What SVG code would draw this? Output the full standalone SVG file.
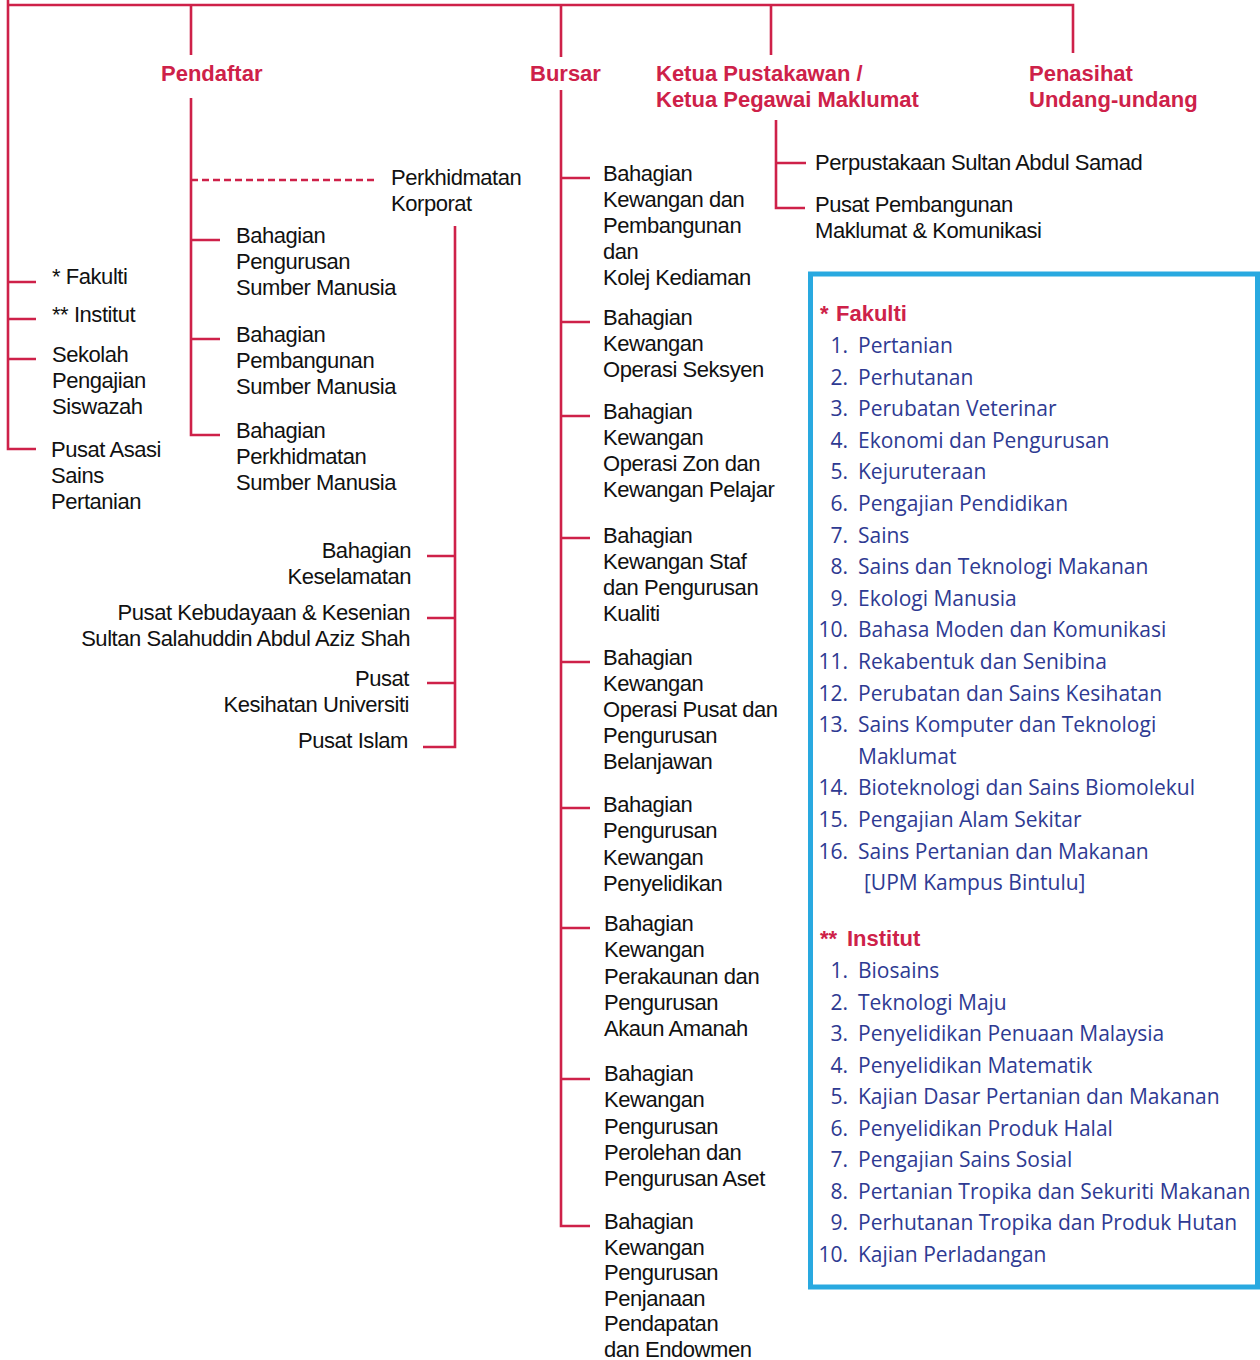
<svg xmlns="http://www.w3.org/2000/svg" width="1260" height="1360" viewBox="0 0 1260 1360">
<style>
.ln{stroke:#CE2149;stroke-width:2.6;fill:none}
.dash{stroke-dasharray:7 4}
.t{font-family:"Liberation Sans",Arial,sans-serif;font-size:22px;letter-spacing:-0.45px;fill:#111}
.h{font-family:"Liberation Sans",Arial,sans-serif;font-size:22px;font-weight:bold;fill:#CE2149}
.r{text-anchor:end}
.box{fill:none;stroke:#29A9E0;stroke-width:5}
.l{font-family:"Open Sans","Noto Sans",sans-serif;font-size:21px;fill:#2E3A92}
.n{text-anchor:end}
</style>
<rect width="1260" height="1360" fill="#fff"/>
<g id="connectors">
<path class="ln" d="M8,0V449H36M8,5H1073V53M8,282H36M8,319H36M8,359H36"/>
<path class="ln" d="M191,5V55M191,98V435H220M191,240H220M191,339H220"/>
<path class="ln dash" d="M191,180H378"/>
<path class="ln" d="M455,226V747H423M427,556H455M427,618H455M427,683H455"/>
<path class="ln" d="M561,5V57M561,90V1226H590M561,178H590M561,322H590M561,416H590M561,538H590M561,662H590M561,808H590M561,928H590M561,1079H590"/>
<path class="ln" d="M771,5V55M776,120V208H805M776,163H806"/>
</g>
<g id="fakulti"><text class="t" x="52" y="284">* Fakulti</text></g>
<g id="institut"><text class="t" x="52" y="322">** Institut</text></g>
<g id="sekolah"><text class="t" x="52" y="362">Sekolah<tspan x="52" dy="26">Pengajian</tspan><tspan x="52" dy="26">Siswazah</tspan></text></g>
<g id="pusat-asasi"><text class="t" x="51" y="457">Pusat Asasi<tspan x="51" dy="26">Sains</tspan><tspan x="51" dy="26">Pertanian</tspan></text></g>
<g id="pendaftar"><text class="h" x="161" y="81">Pendaftar</text></g>
<g id="perkhidmatan-korporat"><text class="t" x="391" y="185">Perkhidmatan<tspan x="391" dy="26">Korporat</tspan></text></g>
<g id="bpsm"><text class="t" x="236" y="243">Bahagian<tspan x="236" dy="26">Pengurusan</tspan><tspan x="236" dy="26">Sumber Manusia</tspan></text></g>
<g id="bpbsm"><text class="t" x="236" y="342">Bahagian<tspan x="236" dy="26">Pembangunan</tspan><tspan x="236" dy="26">Sumber Manusia</tspan></text></g>
<g id="bpksm"><text class="t" x="236" y="438">Bahagian<tspan x="236" dy="26">Perkhidmatan</tspan><tspan x="236" dy="26">Sumber Manusia</tspan></text></g>
<g id="keselamatan"><text class="t r" x="411" y="558">Bahagian<tspan x="411" dy="26">Keselamatan</tspan></text></g>
<g id="kebudayaan"><text class="t r" x="410" y="620">Pusat Kebudayaan &amp; Kesenian<tspan x="410" dy="26">Sultan Salahuddin Abdul Aziz Shah</tspan></text></g>
<g id="kesihatan"><text class="t r" x="409" y="686">Pusat<tspan x="409" dy="26">Kesihatan Universiti</tspan></text></g>
<g id="islam"><text class="t r" x="408" y="748">Pusat Islam</text></g>
<g id="bursar"><text class="h" x="530" y="81">Bursar</text></g>
<g id="b1"><text class="t" x="603" y="181">Bahagian<tspan x="603" dy="26">Kewangan dan</tspan><tspan x="603" dy="26">Pembangunan</tspan><tspan x="603" dy="26">dan</tspan><tspan x="603" dy="26">Kolej Kediaman</tspan></text></g>
<g id="b2"><text class="t" x="603" y="325">Bahagian<tspan x="603" dy="26">Kewangan</tspan><tspan x="603" dy="26">Operasi Seksyen</tspan></text></g>
<g id="b3"><text class="t" x="603" y="419">Bahagian<tspan x="603" dy="26">Kewangan</tspan><tspan x="603" dy="26">Operasi Zon dan</tspan><tspan x="603" dy="26">Kewangan Pelajar</tspan></text></g>
<g id="b4"><text class="t" x="603" y="543">Bahagian<tspan x="603" dy="26">Kewangan Staf</tspan><tspan x="603" dy="26">dan Pengurusan</tspan><tspan x="603" dy="26">Kualiti</tspan></text></g>
<g id="b5"><text class="t" x="603" y="665">Bahagian<tspan x="603" dy="26">Kewangan</tspan><tspan x="603" dy="26">Operasi Pusat dan</tspan><tspan x="603" dy="26">Pengurusan</tspan><tspan x="603" dy="26">Belanjawan</tspan></text></g>
<g id="b6"><text class="t" x="603" y="812">Bahagian<tspan x="603" dy="26.4">Pengurusan</tspan><tspan x="603" dy="26.4">Kewangan</tspan><tspan x="603" dy="26.4">Penyelidikan</tspan></text></g>
<g id="b7"><text class="t" x="604" y="931">Bahagian<tspan x="604" dy="26.3">Kewangan</tspan><tspan x="604" dy="26.3">Perakaunan dan</tspan><tspan x="604" dy="26.3">Pengurusan</tspan><tspan x="604" dy="26.3">Akaun Amanah</tspan></text></g>
<g id="b8"><text class="t" x="604" y="1081">Bahagian<tspan x="604" dy="26.3">Kewangan</tspan><tspan x="604" dy="26.3">Pengurusan</tspan><tspan x="604" dy="26.3">Perolehan dan</tspan><tspan x="604" dy="26.3">Pengurusan Aset</tspan></text></g>
<g id="b9"><text class="t" x="604" y="1229">Bahagian<tspan x="604" dy="25.6">Kewangan</tspan><tspan x="604" dy="25.6">Pengurusan</tspan><tspan x="604" dy="25.6">Penjanaan</tspan><tspan x="604" dy="25.6">Pendapatan</tspan><tspan x="604" dy="25.6">dan Endowmen</tspan></text></g>
<g id="ketua-pustakawan"><text class="h" x="656" y="81">Ketua Pustakawan /<tspan x="656" dy="26">Ketua Pegawai Maklumat</tspan></text></g>
<g id="perpustakaan"><text class="t" x="815" y="170">Perpustakaan Sultan Abdul Samad</text></g>
<g id="ppmk"><text class="t" x="815" y="212">Pusat Pembangunan<tspan x="815" dy="26">Maklumat &amp; Komunikasi</tspan></text></g>
<g id="penasihat"><text class="h" x="1029" y="81">Penasihat<tspan x="1029" dy="26">Undang-undang</tspan></text></g>
<g id="legend">
<rect class="box" x="810.5" y="274" width="447" height="1013"/>
<text class="h" x="820" y="321">*<tspan x="836">Fakulti</tspan></text>
<g class="l">
<text class="n" x="848" y="353">1.</text><text x="858" y="353">Pertanian</text>
<text class="n" x="848" y="384.6">2.</text><text x="858" y="384.6">Perhutanan</text>
<text class="n" x="848" y="416.2">3.</text><text x="858" y="416.2">Perubatan Veterinar</text>
<text class="n" x="848" y="447.8">4.</text><text x="858" y="447.8">Ekonomi dan Pengurusan</text>
<text class="n" x="848" y="479.4">5.</text><text x="858" y="479.4">Kejuruteraan</text>
<text class="n" x="848" y="511">6.</text><text x="858" y="511">Pengajian Pendidikan</text>
<text class="n" x="848" y="542.6">7.</text><text x="858" y="542.6">Sains</text>
<text class="n" x="848" y="574.2">8.</text><text x="858" y="574.2">Sains dan Teknologi Makanan</text>
<text class="n" x="848" y="605.8">9.</text><text x="858" y="605.8">Ekologi Manusia</text>
<text class="n" x="848" y="637.4">10.</text><text x="858" y="637.4">Bahasa Moden dan Komunikasi</text>
<text class="n" x="848" y="669">11.</text><text x="858" y="669">Rekabentuk dan Senibina</text>
<text class="n" x="848" y="700.6">12.</text><text x="858" y="700.6">Perubatan dan Sains Kesihatan</text>
<text class="n" x="848" y="732.2">13.</text><text x="858" y="732.2">Sains Komputer dan Teknologi</text>
<text x="858" y="763.8">Maklumat</text>
<text class="n" x="848" y="795.4">14.</text><text x="858" y="795.4">Bioteknologi dan Sains Biomolekul</text>
<text class="n" x="848" y="827">15.</text><text x="858" y="827">Pengajian Alam Sekitar</text>
<text class="n" x="848" y="858.6">16.</text><text x="858" y="858.6">Sains Pertanian dan Makanan</text>
<text x="864" y="890.2">[UPM Kampus Bintulu]</text>
</g>
<text class="h" x="820" y="946">**<tspan x="847">Institut</tspan></text>
<g class="l">
<text class="n" x="848" y="978">1.</text><text x="858" y="978">Biosains</text>
<text class="n" x="848" y="1009.5">2.</text><text x="858" y="1009.5">Teknologi Maju</text>
<text class="n" x="848" y="1041">3.</text><text x="858" y="1041">Penyelidikan Penuaan Malaysia</text>
<text class="n" x="848" y="1072.5">4.</text><text x="858" y="1072.5">Penyelidikan Matematik</text>
<text class="n" x="848" y="1104">5.</text><text x="858" y="1104">Kajian Dasar Pertanian dan Makanan</text>
<text class="n" x="848" y="1135.5">6.</text><text x="858" y="1135.5">Penyelidikan Produk Halal</text>
<text class="n" x="848" y="1167">7.</text><text x="858" y="1167">Pengajian Sains Sosial</text>
<text class="n" x="848" y="1198.5">8.</text><text x="858" y="1198.5">Pertanian Tropika dan Sekuriti Makanan</text>
<text class="n" x="848" y="1230">9.</text><text x="858" y="1230">Perhutanan Tropika dan Produk Hutan</text>
<text class="n" x="848" y="1261.5">10.</text><text x="858" y="1261.5">Kajian Perladangan</text>
</g>
</g>
</svg>
